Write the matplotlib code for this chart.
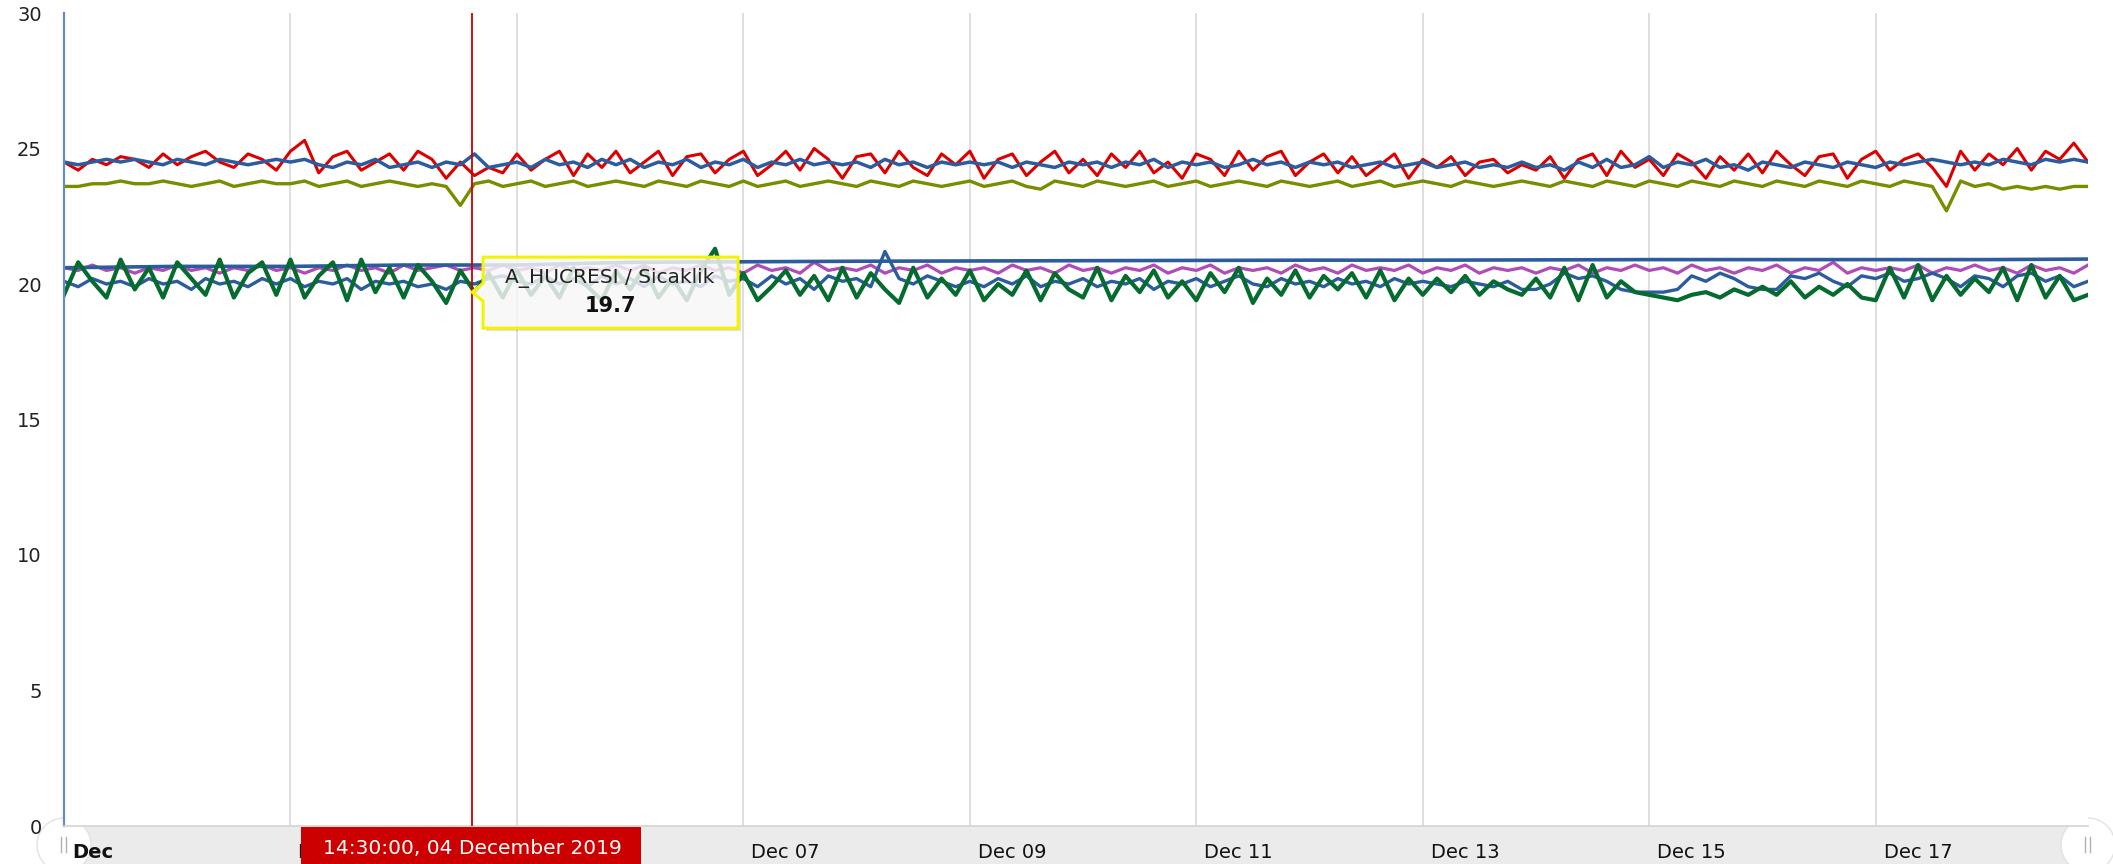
import matplotlib
matplotlib.use('Agg')
import matplotlib.pyplot as plt
import matplotlib.dates as mdates
import matplotlib.transforms as mtransforms
from matplotlib.patches import Polygon, Rectangle, Circle
from matplotlib.lines import Line2D
import pandas as pd

# 3-hourly readings, 01 Dec 00:00 .. 18 Dec 21:00
times = pd.date_range('2019-12-01 00:00', periods=144, freq='3h')

red = [24.5, 24.2, 24.6, 24.4, 24.7, 24.6, 24.3, 24.8,
       24.4, 24.7, 24.9, 24.5, 24.3, 24.8, 24.6, 24.2,
       24.9, 25.3, 24.1, 24.7, 24.9, 24.2, 24.5, 24.8,
       24.2, 24.9, 24.6, 23.9, 24.5, 24.0, 24.3, 24.1,
       24.8, 24.2, 24.6, 24.9, 24.0, 24.8, 24.3, 24.9,
       24.1, 24.5, 24.9, 24.0, 24.7, 24.8, 24.1, 24.6,
       24.9, 24.0, 24.4, 24.9, 24.2, 25.0, 24.6, 23.9,
       24.7, 24.8, 24.1, 24.9, 24.3, 24.0, 24.8, 24.4,
       24.9, 23.9, 24.6, 24.8, 24.0, 24.5, 24.9, 24.1,
       24.6, 24.0, 24.8, 24.3, 24.9, 24.1, 24.5, 23.9,
       24.8, 24.6, 24.0, 24.9, 24.2, 24.7, 24.9, 24.0,
       24.5, 24.8, 24.1, 24.7, 24.0, 24.4, 24.8, 23.9,
       24.6, 24.3, 24.7, 24.0, 24.5, 24.6, 24.1, 24.4,
       24.2, 24.7, 23.9, 24.6, 24.8, 24.0, 24.9, 24.3,
       24.6, 24.0, 24.8, 24.5, 23.9, 24.7, 24.2, 24.8,
       24.1, 24.9, 24.4, 24.0, 24.7, 24.8, 23.9, 24.6,
       24.9, 24.2, 24.6, 24.8, 24.3, 23.6, 24.9, 24.2,
       24.8, 24.4, 25.0, 24.2, 24.9, 24.6, 25.2, 24.5]

blue_hi = [24.5, 24.4, 24.5, 24.6, 24.5, 24.6, 24.5, 24.4,
           24.6, 24.5, 24.4, 24.6, 24.5, 24.4, 24.5, 24.6,
           24.5, 24.6, 24.4, 24.3, 24.5, 24.4, 24.6, 24.3,
           24.4, 24.5, 24.3, 24.5, 24.4, 24.8, 24.3, 24.4,
           24.5, 24.3, 24.6, 24.4, 24.5, 24.3, 24.6, 24.4,
           24.6, 24.3, 24.5, 24.4, 24.6, 24.3, 24.5, 24.4,
           24.6, 24.3, 24.5, 24.4, 24.6, 24.4, 24.5, 24.4,
           24.5, 24.3, 24.6, 24.4, 24.5, 24.3, 24.5, 24.4,
           24.5, 24.4, 24.5, 24.3, 24.5, 24.4, 24.3, 24.5,
           24.4, 24.5, 24.3, 24.5, 24.4, 24.6, 24.3, 24.5,
           24.4, 24.5, 24.3, 24.4, 24.6, 24.4, 24.5, 24.3,
           24.5, 24.4, 24.5, 24.3, 24.4, 24.5, 24.3, 24.4,
           24.5, 24.3, 24.4, 24.5, 24.3, 24.4, 24.3, 24.5,
           24.3, 24.4, 24.2, 24.5, 24.3, 24.6, 24.3, 24.4,
           24.7, 24.3, 24.5, 24.4, 24.6, 24.3, 24.4, 24.2,
           24.5, 24.4, 24.3, 24.5, 24.4, 24.3, 24.5, 24.4,
           24.3, 24.5, 24.4, 24.5, 24.6, 24.5, 24.4, 24.5,
           24.4, 24.6, 24.5, 24.4, 24.6, 24.5, 24.6, 24.5]

olive = [23.6, 23.6, 23.7, 23.7, 23.8, 23.7, 23.7, 23.8,
         23.7, 23.6, 23.7, 23.8, 23.6, 23.7, 23.8, 23.7,
         23.7, 23.8, 23.6, 23.7, 23.8, 23.6, 23.7, 23.8,
         23.7, 23.6, 23.7, 23.6, 22.9, 23.7, 23.8, 23.6,
         23.7, 23.8, 23.6, 23.7, 23.8, 23.6, 23.7, 23.8,
         23.7, 23.6, 23.8, 23.7, 23.6, 23.8, 23.7, 23.6,
         23.8, 23.6, 23.7, 23.8, 23.6, 23.7, 23.8, 23.7,
         23.6, 23.8, 23.7, 23.6, 23.8, 23.7, 23.6, 23.7,
         23.8, 23.6, 23.7, 23.8, 23.6, 23.5, 23.8, 23.7,
         23.6, 23.8, 23.7, 23.6, 23.7, 23.8, 23.6, 23.7,
         23.8, 23.6, 23.7, 23.8, 23.7, 23.6, 23.8, 23.7,
         23.6, 23.7, 23.8, 23.6, 23.7, 23.8, 23.6, 23.7,
         23.8, 23.7, 23.6, 23.8, 23.7, 23.6, 23.7, 23.8,
         23.7, 23.6, 23.8, 23.7, 23.6, 23.8, 23.7, 23.6,
         23.8, 23.7, 23.6, 23.8, 23.7, 23.6, 23.8, 23.7,
         23.6, 23.8, 23.7, 23.6, 23.8, 23.7, 23.6, 23.8,
         23.7, 23.6, 23.8, 23.7, 23.6, 22.7, 23.8, 23.6,
         23.7, 23.5, 23.6, 23.5, 23.6, 23.5, 23.6, 23.6]

# near-flat series, daily readings plus the last one
flat_times = list(times[::8]) + [times[-1]]
blue_flat = [20.6, 20.65, 20.65, 20.7, 20.7, 20.8, 20.82, 20.84, 20.85, 20.86,
             20.87, 20.88, 20.88, 20.89, 20.9, 20.9, 20.9, 20.9, 20.92]

magenta = [20.6, 20.5, 20.7, 20.5, 20.6, 20.4, 20.6, 20.5,
           20.7, 20.5, 20.6, 20.4, 20.6, 20.5, 20.7, 20.5,
           20.6, 20.4, 20.6, 20.5, 20.7, 20.5, 20.6, 20.4,
           20.7, 20.5, 20.6, 20.7, 20.5, 20.6, 20.5, 20.7,
           20.5, 20.6, 20.4, 20.7, 20.5, 20.6, 20.5, 20.7,
           20.5, 20.7, 20.4, 20.6, 20.5, 20.7, 20.5, 20.6,
           20.4, 20.7, 20.5, 20.6, 20.4, 20.8, 20.5, 20.6,
           20.5, 20.7, 20.4, 20.6, 20.5, 20.7, 20.4, 20.6,
           20.5, 20.6, 20.4, 20.7, 20.5, 20.6, 20.4, 20.7,
           20.5, 20.6, 20.4, 20.6, 20.5, 20.7, 20.4, 20.6,
           20.5, 20.7, 20.4, 20.6, 20.5, 20.6, 20.4, 20.7,
           20.5, 20.6, 20.4, 20.7, 20.5, 20.6, 20.5, 20.7,
           20.4, 20.6, 20.5, 20.7, 20.4, 20.6, 20.5, 20.6,
           20.4, 20.6, 20.5, 20.7, 20.4, 20.6, 20.5, 20.7,
           20.5, 20.6, 20.4, 20.7, 20.5, 20.6, 20.4, 20.6,
           20.5, 20.7, 20.4, 20.6, 20.5, 20.8, 20.4, 20.6,
           20.5, 20.6, 20.5, 20.7, 20.4, 20.6, 20.5, 20.7,
           20.5, 20.6, 20.4, 20.7, 20.5, 20.6, 20.4, 20.7]

blue_lo = [20.1, 19.9, 20.2, 20.0, 20.1, 19.9, 20.2, 20.0,
           20.1, 19.8, 20.2, 20.0, 20.1, 19.9, 20.2, 20.0,
           20.2, 19.9, 20.1, 20.0, 20.2, 19.8, 20.1, 20.0,
           20.1, 19.9, 20.0, 19.8, 20.1, 20.0, 20.2, 20.3,
           20.1, 20.0, 20.3, 20.0, 20.2, 19.9, 20.3, 20.0,
           20.2, 19.9, 20.3, 20.0, 20.1, 19.9, 20.3, 20.1,
           20.2, 19.9, 20.3, 20.0, 20.2, 19.8, 20.3, 20.1,
           20.2, 19.9, 21.2, 20.2, 20.0, 20.3, 20.1, 19.9,
           20.1, 19.9, 20.2, 20.0, 20.3, 19.9, 20.1, 20.0,
           20.2, 19.9, 20.1, 20.0, 20.2, 19.8, 20.1, 20.0,
           20.2, 19.9, 20.1, 20.3, 20.0, 19.9, 20.2, 20.0,
           20.1, 19.9, 20.2, 20.0, 20.1, 19.9, 20.2, 20.0,
           20.1, 20.0, 19.9, 20.1, 20.0, 19.9, 20.1, 19.8,
           19.8, 20.0, 20.4, 20.2, 20.3, 20.1, 19.8, 19.7,
           19.7, 19.7, 19.8, 20.3, 20.1, 20.4, 20.2, 19.9,
           19.8, 19.8, 20.3, 20.2, 20.4, 20.1, 19.9, 20.3,
           20.2, 20.4, 20.1, 20.2, 20.4, 20.2, 19.9, 20.3,
           20.2, 19.9, 20.3, 20.4, 20.1, 20.3, 19.9, 20.1]

green = [19.6, 20.8, 20.1, 19.5, 20.9, 19.8, 20.6, 19.5,
         20.8, 20.2, 19.6, 20.9, 19.5, 20.4, 20.8, 19.6,
         20.9, 19.5, 20.3, 20.8, 19.4, 20.9, 19.7, 20.6,
         19.5, 20.7, 20.1, 19.3, 20.5, 19.7, 20.4, 19.5,
         20.5, 19.6, 20.3, 19.5, 20.6, 19.9, 19.4, 20.5,
         19.8, 20.6, 19.5, 20.2, 19.4, 20.5, 21.3, 19.6,
         20.4, 19.4, 19.9, 20.5, 19.6, 20.3, 19.4, 20.6,
         19.5, 20.4, 19.8, 19.3, 20.6, 19.5, 20.2, 19.6,
         20.5, 19.4, 20.0, 19.6, 20.5, 19.4, 20.4, 19.8,
         19.5, 20.6, 19.4, 20.3, 19.7, 20.5, 19.5, 20.1,
         19.4, 20.4, 19.7, 20.6, 19.3, 20.2, 19.6, 20.5,
         19.5, 20.3, 19.8, 20.4, 19.5, 20.5, 19.4, 20.2,
         19.6, 20.2, 19.7, 20.3, 19.6, 20.1, 19.8, 19.6,
         20.2, 19.5, 20.6, 19.4, 20.7, 19.5, 20.1, 19.7,
         19.6, 19.5, 19.4, 19.6, 19.7, 19.5, 19.8, 19.6,
         19.9, 19.6, 20.1, 19.5, 19.9, 19.6, 20.0, 19.5,
         19.4, 20.6, 19.5, 20.7, 19.4, 20.3, 19.6, 20.2,
         19.7, 20.6, 19.4, 20.7, 19.5, 20.3, 19.4, 19.6]

tick_days = pd.date_range('2019-12-01', '2019-12-17', freq='2D')
tick_labels = ['Dec', 'Dec 03', 'Dec 05', 'Dec 07', 'Dec 09',
               'Dec 11', 'Dec 13', 'Dec 15', 'Dec 17']

cursor_time = pd.Timestamp('2019-12-04 14:30')
cursor_label = '14:30:00, 04 December 2019'
tooltip_name = 'A_HUCRESI / Sicaklik'
tooltip_value = 19.7

W, H = 2113, 864
fig = plt.figure(figsize=(W / 100, H / 100), dpi=100)
ax = fig.add_axes([64 / W, 38 / H, (2088 - 64) / W, (826 - 13) / H])

ax.plot(times, olive, color='#7a8c00', lw=2.4)
ax.plot(times, red, color='#dc0000', lw=2.2)
ax.plot(times, blue_hi, color='#2b5d9e', lw=2.5)
ax.plot(times, magenta, color='#b04cb8', lw=2.3)
ax.plot(flat_times, blue_flat, color='#2b5d9e', lw=2.6)
ax.plot(times, blue_lo, color='#2b5d9e', lw=2.4)
ax.plot(times, green, color='#056b2e', lw=3.0)

ax.axvline(cursor_time, color='#cc0000', lw=1.3, zorder=4)

ax.set_xlim(times[0], times[-1])
ax.set_ylim(0, 30)

for s in ['top', 'right']:
    ax.spines[s].set_visible(False)
ax.spines['left'].set_color('#6b8cc0')
ax.spines['left'].set_linewidth(1.6)
ax.spines['bottom'].set_color('#d4d4d4')
ax.spines['bottom'].set_linewidth(1.2)

ax.set_yticks(range(0, 31, 5))
ax.tick_params(axis='y', length=0, pad=16, labelsize=14, labelcolor='#222222')
ax.set_xticks(tick_days)
ax.tick_params(axis='x', length=0, labelbottom=False)
ax.grid(axis='x', color='#dcdcdc', lw=1.3)
ax.set_axisbelow(True)

# date labels sit just right of their grid line, inside the scrollbar band
lab_trans = mtransforms.offset_copy(ax.get_xaxis_transform(), fig=fig, x=8, y=-27, units='dots')
for i, (d, lab) in enumerate(zip(tick_days, tick_labels)):
    ax.text(d, 0, lab, transform=lab_trans, ha='left', va='center', fontsize=14,
            color='#111111', weight='bold' if i == 0 else 'normal', clip_on=False)

# scrollbar band under the plot, grips drawn below the labels
pos = ax.get_position()
left_px, right_px = pos.x0 * W, pos.x1 * W
ident = mtransforms.IdentityTransform()
fig.add_artist(Rectangle((left_px, 0), right_px - left_px, 38, transform=ident,
                         facecolor='#ebebeb', edgecolor='none', zorder=-2))
for gx in [left_px, right_px]:
    fig.add_artist(Circle((gx, 19), 27, transform=ident, facecolor='white',
                          edgecolor='#e2e2e2', lw=1, zorder=-1))
    for dx in [-3, 2]:
        fig.add_artist(Line2D([gx + dx, gx + dx], [12, 27], transform=ident,
                              color='#b0b0b0', lw=1, zorder=-0.5))

# tooltip box pointing at the value under the cursor
tx, ty = ax.transData.transform((mdates.date2num(cursor_time), tooltip_value))
shape = [(0, 0), (11, 9), (11, 35), (266, 35), (266, -36), (11, -36), (11, -9)]
ax.add_patch(Polygon([(tx + x + 3, ty + y - 3) for x, y in shape], closed=True,
                     transform=ident, facecolor='#000000', alpha=0.12,
                     edgecolor='none', clip_on=False, zorder=9))
ax.add_patch(Polygon([(tx + x, ty + y) for x, y in shape], closed=True,
                     transform=ident, facecolor=(1, 1, 1, 0.8),
                     edgecolor='#f5f200', lw=2.2, clip_on=False, zorder=10))
ax.text(tx + 138, ty + 14, tooltip_name, transform=ident, ha='center', va='center',
        fontsize=14.5, color='#222222', zorder=11)
ax.text(tx + 138, ty - 14, f'{tooltip_value:.1f}', transform=ident, ha='center',
        va='center', fontsize=15, weight='bold', color='#111111', zorder=11)

# cursor date label on the axis
cx = tx
fig.add_artist(Rectangle((cx - 171, 0), 340, 37, transform=ident,
                         facecolor='#cc0000', edgecolor='none', zorder=5))
fig.text(cx / W, 16 / H, cursor_label, ha='center', va='center', fontsize=14.5,
         color='white', zorder=6)

fig.savefig('out.png', dpi=100)
